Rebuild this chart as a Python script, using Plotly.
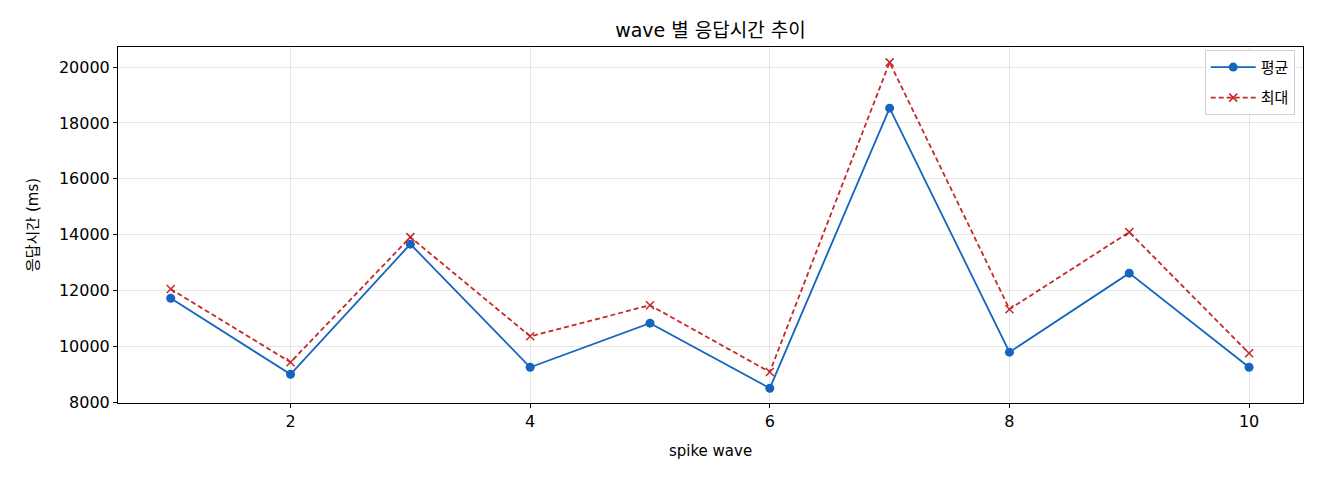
import plotly.graph_objects as go

# spike wave 별 응답시간 (ms)
waves = [1, 2, 3, 4, 5, 6, 7, 8, 9, 10]
avg_ms = [11720, 9000, 13660, 9250, 10830, 8500, 18530, 9790, 12620, 9250]
max_ms = [12050, 9430, 13910, 10360, 11470, 9080, 20170, 11330, 14090, 9750]

FONT = "DejaVu Sans, Noto Sans CJK KR"

fig = go.Figure()
fig.add_trace(go.Scatter(
    x=waves, y=avg_ms, name="평균", mode="lines+markers", legendgroup="a",
    line=dict(color="#1565C0", width=1.8),
    marker=dict(symbol="circle", size=9, color="#1565C0"),
))
fig.add_trace(go.Scatter(
    x=waves, y=max_ms, name="최대", mode="lines+markers", legendgroup="b",
    line=dict(color="#C62828", width=1.8, dash="5px,3px"),
    marker=dict(symbol="x-thin", size=8, line=dict(color="#C62828", width=1.5)),
))

axis_style = dict(
    showline=True, linecolor="black", linewidth=1, mirror=True,
    ticks="outside", ticklen=4, tickcolor="black", automargin=False,
    showgrid=True, gridcolor="rgba(0,0,0,0.1)", zeroline=False,
    tickfont=dict(size=16, color="black", family=FONT),
)

# page renders ~7px offset, so margins shifted to land plot area where the reference has it
fig.update_layout(
    width=1320, height=480,
    margin=dict(l=110, r=25, t=39, b=85),
    paper_bgcolor="white", plot_bgcolor="white",
    font=dict(family=FONT, color="black"),
    title=dict(text="wave 별 응답시간 추이", xref="paper", x=0.5, xanchor="center",
               y=0.954, yanchor="middle", font=dict(size=19, family=FONT)),
    legend=dict(x=0.993, y=0.992, xanchor="right", yanchor="top",
                traceorder="grouped", tracegroupgap=8, itemwidth=45,
                bordercolor="#d0d0d0", borderwidth=1, bgcolor="white",
                font=dict(size=15, family=FONT)),
    xaxis=dict(range=[0.56, 10.45], tickvals=[2, 4, 6, 8, 10],
               title=dict(text="spike wave", font=dict(size=15), standoff=15),
               **axis_style),
    yaxis=dict(range=[7970, 20720], tickvals=list(range(8000, 20001, 2000)),
               tickformat="d",
               title=dict(text="응답시간 (ms)", font=dict(size=15), standoff=16),
               **axis_style),
)

fig.write_html("out.html")
